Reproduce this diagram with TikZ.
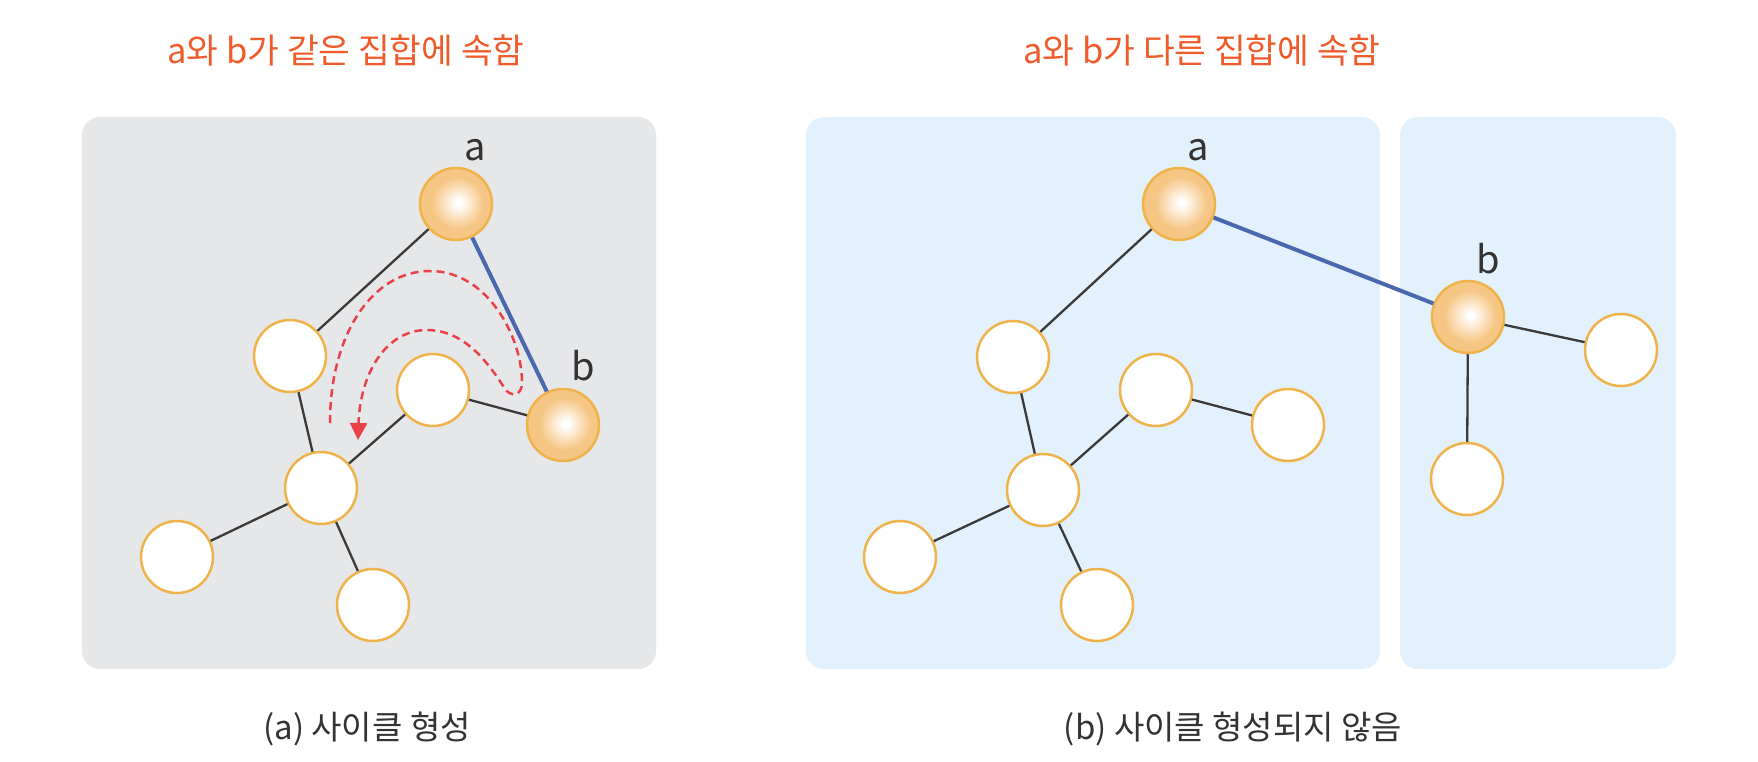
\documentclass[tikz,border=0pt]{standalone}
\usepackage{fontspec}
\setmainfont{Noto Sans CJK KR}
\usetikzlibrary{arrows.meta}
\definecolor{ttl}{HTML}{EF5B2B}
\definecolor{grayp}{HTML}{E6E7E9}
\definecolor{bluep}{HTML}{E2F1FB}
\definecolor{nodeb}{HTML}{F0B24A}
\definecolor{ballout}{HTML}{F6C684}
\definecolor{edgeblue}{HTML}{4A68B0}
\definecolor{dashred}{HTML}{E8414A}
\definecolor{txt}{HTML}{333333}
\definecolor{edgec}{HTML}{3A3A3A}
\pgfdeclareradialshading{ballsh}{\pgfpoint{2bp}{1bp}}{color(0bp)=(white); color(2bp)=(white); color(18bp)=(ballout); color(25bp)=(ballout); color(50bp)=(ballout)}
\begin{document}
\begin{tikzpicture}[x=1pt,y=-1pt,
  panelbox/.style={fill=#1, draw=none, rounded corners=18pt},
  wnode/.style={circle, draw=nodeb, line width=2.5pt, fill=white, minimum size=72pt, inner sep=0pt},
  onode/.style={circle, draw=nodeb, line width=2.5pt, shading=ballsh, minimum size=72pt, inner sep=0pt},
  lnk/.style={draw=edgec, line width=2.3pt},
  blnk/.style={draw=edgeblue, line width=4pt},
  lbl/.style={text=txt, font=\fontsize{38}{42}\selectfont, inner sep=0pt},
  ttlstyle/.style={text=ttl, font=\fontsize{34.5}{40}\selectfont, inner sep=0pt},
  captext/.style={text=txt, font=\fontsize{33}{38}\selectfont, inner sep=0pt},
  redpath/.style={draw=dashred, line width=2.5pt, dash pattern=on 8pt off 5pt, -{Triangle[length=17pt,width=17pt]}},
]
\useasboundingbox[fill=white] (0,0) rectangle (1758,762);

% panels
\fill[panelbox=grayp] (82,117) rectangle (656,669);
\fill[panelbox=bluep] (806,117) rectangle (1380,669);
\fill[panelbox=bluep] (1400,117) rectangle (1676,669);

% titles and captions
\node[ttlstyle] (t1) at (346,50) {a와 b가 같은 집합에 속함};
\node[ttlstyle] (t2) at (1202,50) {a와 b가 다른 집합에 속함};
\node[captext] (c1) at (367,729) {(a) 사이클 형성};
\node[captext] (c2) at (1233,729) {(b) 사이클 형성되지 않음};

% left graph
\node[onode] (La) at (456,204) {};
\node[onode] (Lb) at (563,425) {};
\node[wnode] (L1) at (290,356) {};
\node[wnode] (L2) at (433,390) {};
\node[wnode] (L3) at (321,488) {};
\node[wnode] (L4) at (177,557) {};
\node[wnode] (L5) at (373,605) {};
\node[lbl] (Lla) at (475,150) {a};
\node[lbl] (Llb) at (583,366) {b};

\draw[lnk] (La) -- (L1);
\draw[blnk] (La) -- (Lb);
\draw[lnk] (Lb) -- (L2);
\draw[lnk] (L1) -- (L3);
\draw[lnk] (L2) -- (L3);
\draw[lnk] (L3) -- (L4);
\draw[lnk] (L3) -- (L5);

% red dashed cycle path
\coordinate (rs) at (330,423);
\coordinate (re) at (358,440);
\draw[redpath] (rs) .. controls (330,335) and (372,271) .. (430,271)
  .. controls (488,271) and (522,338) .. (522,382)
  .. controls (522,398) and (510,396) .. (505,389)
  .. controls (482,352) and (458,330) .. (427,330)
  .. controls (385,330) and (360,375) .. (re);

% right graph
\node[onode] (Ra) at (1179,204) {};
\node[onode] (Rb) at (1468,317) {};
\node[wnode] (Rbr) at (1621,350) {};
\node[wnode] (Rbb) at (1467,479) {};
\node[wnode] (R1) at (1013,357) {};
\node[wnode] (R2) at (1156,390) {};
\node[wnode] (R2r) at (1288,425) {};
\node[wnode] (R3) at (1043,490) {};
\node[wnode] (R4) at (900,557) {};
\node[wnode] (R5) at (1097,605) {};
\node[lbl] (Rla) at (1198,150) {a};
\node[lbl] (Rlb) at (1488,259) {b};

\draw[lnk] (Ra) -- (R1);
\draw[blnk] (Ra) -- (Rb);
\draw[lnk] (Rb) -- (Rbr);
\draw[lnk] (Rb) -- (Rbb);
\draw[lnk] (R1) -- (R3);
\draw[lnk] (R3) -- (R2);
\draw[lnk] (R2) -- (R2r);
\draw[lnk] (R3) -- (R4);
\draw[lnk] (R3) -- (R5);
\end{tikzpicture}
\end{document}
